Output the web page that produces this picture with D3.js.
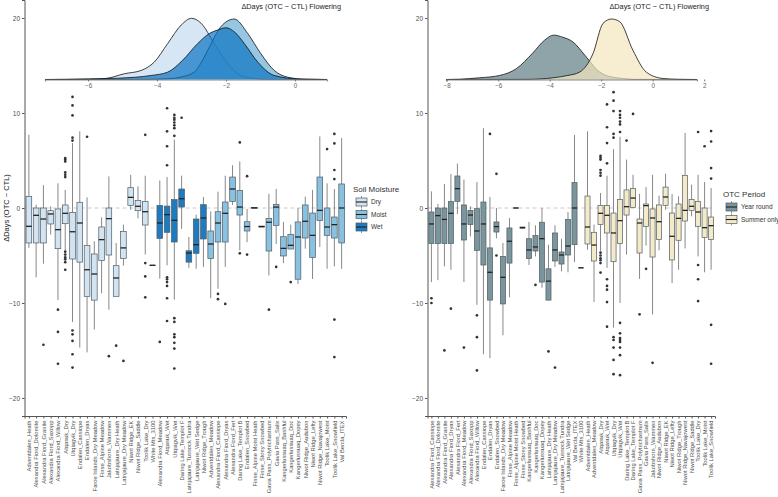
<!DOCTYPE html>
<html>
<head>
<meta charset="utf-8">
<script src="https://cdn.jsdelivr.net/npm/d3@7"></script>
<style>
  body { margin: 0; background: #fff; }
  text { font-family: "Liberation Sans", Arial, sans-serif; }
</style>
</head>
<body>
<div id="chart"></div>
<script>
// ......................
// Data

// left panel: sites grouped by soil moisture
var leftSites = ["Adventdalen_Heath", "Alexandra Fiord_Dolomite", "Alexandra Fiord_Granite", "Alexandra Fiord_Saxopp",
  "Alexandra Fiord_Willow", "Atqasuk_Dry", "Utqiagvik_Dry", "Endalen_Cassiope", "Endalen_Dryas",
  "Faroe Islands_Dry Meadow", "Finse_Alpine Meadow", "Jakobshorn_Wammen", "Latnjajaure_Dry Heath",
  "Latnjajaure_Dry Meadow", "Niwot Ridge_EK", "Niwot Ridge_Saddle", "Toolik Lake_Dry", "White Mts_3100",
  "Alexandra Fiord_Meadow", "Atqasuk_Wet", "Utqiagvik_Wet", "Daring Lake_Templot F", "Latnjajaure_Tussock Tundra",
  "Latnjajaure_Wet Sedge", "Niwot Ridge_Trough", "Adventdalen_Meadow", "Alexandra Fiord_Cassiope",
  "Alexandra Fiord_Dryas", "Alexandra Fiord_Fert", "Daring Lake_Templot B", "Endalen_Snowbed",
  "Finse_Alpine Moist Heath", "Finse_Stony Snowbed", "Gavia Pass_Polytrichastrum", "Gavia Pass_Salix",
  "Kangerlussuaq_Bashful", "Kangerlussuaq_Doc", "Kangerlussuaq_Dopey", "Niwot Ridge_Audubon",
  "Niwot Ridge_Lefty", "Niwot Ridge_Navajowest", "Toolik Lake_Moist", "Toolik Lake_Snowfield", "Val Bercla_ITEX"];

var leftGroups = ["Dry","Dry","Dry","Dry","Dry","Dry","Dry","Dry","Dry","Dry","Dry","Dry","Dry","Dry","Dry","Dry","Dry","Dry",
  "Wet","Wet","Wet","Wet","Wet","Wet","Wet",
  "Moist","Moist","Moist","Moist","Moist","Moist","Moist","Moist","Moist","Moist","Moist","Moist","Moist","Moist","Moist","Moist","Moist","Moist","Moist"];

// [lower whisker, q1, median, q3, upper whisker]
var leftBoxes = [
  [-4.2, -3.68, -1.93, 1.23, 7.7], [-7.3, -3.68, -0.77, 0, 0.35], [-5.86, -3.68, -1.16, 0, 2.4],
  [-2.8, -1.68, -0.63, -0.28, 0.18], [-9.7, -4.28, -2.28, -0.1, 2.6], [-4.46, -1.65, -0.56, 0.32, 1.9],
  [-12.0, -5.37, -2.5, -0.46, 6.84], [-14.7, -5.7, -1.58, 0.6, 8.07], [-15.2, -9.3, -6.5, -3.96, 1.12],
  [-12.8, -9.7, -6.95, -4.84, -3.5], [-9.0, -5.54, -3.33, -2.0, -0.98], [-10.7, -4.95, -1.12, 0, 3.33],
  [-9.3, -9.3, -7.37, -6.07, -3.68], [-6.07, -5.3, -4.2, -2.49, -1.75], [-0.18, 0.28, 1.12, 2.14, 3.5],
  [-1.09, -0.28, 0.18, 0.8, 2.28], [-4.9, -1.79, -0.39, 0.67, 3.4], [-6.03, -6.03, -6.03, -6.03, -6.03],
  [-7.44, -3.2, -1.58, 0.28, 2.9], [-6.03, -2.56, -0.7, 0.2, 3.26], [-9.65, -3.58, -1.3, 0.88, 7.2],
  [-2.2, 0.1, 0.98, 2.0, 3.4], [-6.3, -5.7, -4.74, -4.5, -3.05], [-6.4, -4.77, -3.86, -1.16, -0.7],
  [-6.2, -3.26, -1.05, 0.35, 1.16], [-9.5, -5.33, -3.79, -2.42, -0.35], [-8.5, -3.58, -1.58, -0.39, 1.72],
  [-6.2, -3.58, -0.56, 0.63, 3.4], [0.32, 0.7, 2.0, 3.26, 4.5], [-4.46, -0.74, 0.1, 1.86, 4.9],
  [-3.6, -2.42, -1.95, -1.45, -0.1], [0, 0, 0, 0.05, 0.05], [-1.96, -2.0, -1.96, -1.9, -1.9],
  [-7.1, -4.53, -1.5, -1.12, 1.5], [-3.8, -1.85, 0.1, 0.38, 2.0], [-5.8, -5.05, -4.25, -3.02, -1.47],
  [-4.32, -4.32, -3.93, -2.77, -1.75], [-8.0, -7.5, -3.05, -1.47, 0], [-4.28, -3.16, -1.4, 0.32, 1.19],
  [-7.47, -5.2, -2.88, -0.53, 1.9], [-4.1, -1.33, -0.25, 3.26, 7.54], [-6.4, -2.9, -2.0, 0, 2.6],
  [-6.14, -3.16, -1.75, -0.95, 2.0], [-6.4, -3.68, 0, 2.53, 7.37]
];

var leftOutliers = [
  [], [], [-14.4], [], [-10.7, -13.05, -16.4],
  [5.26, 5.1, 4.9, 3.75, 3.5, 3.26, -4.6, -4.9, -5.2, -5.4, -5.7, -6.5],
  [11.7, 10.8, 9.75, 7.4, 7.1, -12.9, -13.3, -14.0, -15.4, -16.8],
  [], [7.5], [], [], [-15.6], [-14.5], [-16.1], [], [], [7.7, -5.8, -7.2, -9.4], [],
  [-14.1], [10.5, 8.07, 6.5, 4.5, -7.3, -7.5, -7.8, -8.2, -9.5, -11.9],
  [9.8, 9.5, 9.3, 9.0, 8.7, 8.4, 7.6, -11.6, -12.0, -13.3, -13.6, -14.2, -14.8, -16.9],
  [9.5], [], [], [], [], [-9.05, -9.6], [-10.1], [], [6.9, -4.77], [3.35, -4.9], [], [],
  [-10.7], [-6.2], [], [-7.8], [], [], [], [], [6.2], [7.8, 6.8, 4.0, 3.05, -11.75, -15.7], []
];

// right panel: sites grouped by OTC period
var rightSites = ["Alexandra Fiord_Cassiope", "Alexandra Fiord_Dolomite", "Alexandra Fiord_Granite", "Alexandra Fiord_Dryas",
  "Alexandra Fiord_Fert", "Alexandra Fiord_Meadow", "Alexandra Fiord_Saxopp", "Alexandra Fiord_Willow",
  "Endalen_Cassiope", "Endalen_Dryas", "Endalen_Snowbed", "Faroe Islands_Dry Meadow", "Finse_Alpine Meadow",
  "Finse_Alpine Moist Heath", "Finse_Stony Snowbed", "Kangerlussuaq_Bashful", "Kangerlussuaq_Doc",
  "Kangerlussuaq_Dopey", "Latnjajaure_Dry Heath", "Latnjajaure_Dry Meadow", "Latnjajaure_Tussock Tundra",
  "Latnjajaure_Wet Sedge", "Val Bercla_ITEX", "White Mts_3100", "Adventdalen_Heath", "Adventdalen_Meadow",
  "Atqasuk_Dry", "Atqasuk_Wet", "Utqiagvik_Dry", "Utqiagvik_Wet", "Daring Lake_Templot B", "Daring Lake_Templot F",
  "Gavia Pass_Polytrichastrum", "Gavia Pass_Salix", "Jakobshorn_Wammen", "Niwot Ridge_Audubon", "Niwot Ridge_EK",
  "Niwot Ridge_Lefty", "Niwot Ridge_Trough", "Niwot Ridge_Navajowest", "Niwot Ridge_Saddle", "Toolik Lake_Dry",
  "Toolik Lake_Moist", "Toolik Lake_Snowfield"];

var rightGroups = ["Year round","Year round","Year round","Year round","Year round","Year round","Year round","Year round",
  "Year round","Year round","Year round","Year round","Year round","Year round","Year round","Year round",
  "Year round","Year round","Year round","Year round","Year round","Year round","Year round","Year round",
  "Summer only","Summer only","Summer only","Summer only","Summer only","Summer only","Summer only","Summer only",
  "Summer only","Summer only","Summer only","Summer only","Summer only","Summer only","Summer only","Summer only",
  "Summer only","Summer only","Summer only","Summer only"];

var rightBoxes = [
  [-7.8, -3.75, -1.68, -0.42, 1.75], [-7.6, -3.75, -0.8, 0, 0.42], [-6.14, -3.75, -1.2, 0, 2.53],
  [-6.5, -3.75, -0.56, 0.67, 3.58], [-0.63, 0.7, 2.04, 3.37, 4.67], [-7.8, -3.37, -1.68, 0.32, 3.0],
  [-3.0, -1.75, -0.74, -0.25, 0.18], [-10.2, -4.46, -2.42, -0.07, 2.74], [-15.4, -6.0, -1.68, 0.63, 8.4],
  [-15.8, -9.7, -6.77, -4.2, 1.16], [-3.2, -2.53, -1.96, -1.47, 0], [-13.4, -10.1, -7.3, -5.1, -3.68],
  [-9.4, -5.8, -3.5, -2.1, -1.05], [0, 0, 0, 0, 0], [-2.07, -2.12, -2.07, -2.0, -2.0],
  [-6.0, -5.33, -4.42, -3.23, -1.47], [-5.1, -4.53, -4.1, -2.9, -1.82], [-8.4, -7.8, -3.23, -1.5, 0],
  [-9.7, -9.7, -7.7, -6.4, -3.86], [-6.2, -5.58, -4.42, -2.63, -1.82], [-6.67, -5.9, -4.95, -4.63, -3.23],
  [-6.77, -4.95, -4.0, -1.2, -0.42], [-5.7, -3.86, 0, 2.67, 7.7], [-6.3, -6.3, -6.3, -6.3, -6.3],
  [-4.4, -3.79, -2.0, 1.26, 8.07], [-9.9, -5.58, -3.9, -2.56, -1.75], [-4.5, -1.75, -0.56, 0.28, 1.58],
  [-6.3, -2.63, -0.77, 0.25, 3.4], [-12.6, -5.65, -2.63, -0.53, 6.2], [-10.0, -3.75, -1.33, 0.88, 7.5],
  [-4.9, -0.74, 0.14, 1.9, 5.1], [0.07, 0.07, 1.05, 2.07, 3.5], [-7.47, -4.74, -1.58, -1.16, 1.5],
  [-3.96, -1.93, 0.25, 0.42, 2.2], [-11.2, -5.16, -1.05, -0.1, 3.5], [-4.46, -3.33, -1.44, 0.32, 1.3],
  [-0.18, 0.28, 1.16, 2.2, 3.6], [-7.9, -5.47, -2.98, -0.53, 1.47], [-6.5, -3.4, -1.09, 0.42, 1.23],
  [-4.25, -1.37, -0.25, 3.44, 7.9], [-0.88, -0.25, 0.18, 0.88, 2.46], [-5.1, -1.93, -0.42, 0.7, 3.5],
  [-6.77, -3.09, -2.07, 0, 2.74], [-6.5, -3.33, -1.86, -0.95, 2.1]
];

var rightOutliers = [
  [-9.5, -10.0], [], [-15.0], [-10.6], [], [-14.7], [], [-11.3, -13.6, -17.1], [], [7.8], [3.6, -5.0],
  [], [], [], [], [], [-8.1], [], [-15.1], [-16.8], [], [], [], [], [], [],
  [5.5, 5.3, 5.1, 4.0, 3.7, 3.4, -4.7, -5.0, -5.3, -5.5, -5.8, -6.8],
  [10.9, 8.5, 6.84, 4.7, -7.5, -8.2, -8.6, -9.9, -12.5],
  [12.2, 11.3, 10.2, 7.8, 7.4, -13.6, -13.9, -14.7, -16.0, -17.5],
  [10.2, 9.8, 9.5, 9.1, 8.8, 8.0, -12.1, -13.2, -13.7, -13.9, -14.1, -14.7, -15.5, -17.6],
  [7.1], [9.9], [-11.2], [-6.4], [-16.3], [], [], [], [], [], [], [8.0, -6.0, -7.5, -9.8], [6.5],
  [8.1, 7.0, 4.2, 3.1, -12.3, -16.4]
];

// density curves of the inset plots, [delta days, density]
var densDry = [[-7.25, 0], [-6, 0.003], [-5.5, 0.01], [-4.95, 0.057], [-4.46, 0.09], [-4.08, 0.173], [-3.69, 0.357],
  [-3.3, 0.54], [-3.0, 0.607], [-2.72, 0.557], [-2.34, 0.357], [-1.95, 0.157], [-1.57, 0.04], [-1.2, 0.01], [-0.8, 0.001], [0.93, 0]];
var densMoist = [[-7.25, 0], [-4.5, 0.001], [-3.69, 0.007], [-3.3, 0.025], [-2.92, 0.073], [-2.75, 0.15], [-2.53, 0.29],
  [-2.15, 0.523], [-1.76, 0.6], [-1.37, 0.457], [-0.99, 0.257], [-0.6, 0.09], [-0.21, 0.023], [0.3, 0.003], [0.93, 0]];
var densWet = [[-7.25, 0], [-6.6, 0.001], [-6, 0.005], [-5.14, 0.013], [-4.17, 0.04], [-3.69, 0.073], [-3.26, 0.19],
  [-2.82, 0.357], [-2.48, 0.457], [-2.25, 0.49], [-2.0, 0.513], [-1.75, 0.47], [-1.47, 0.357], [-1.08, 0.173],
  [-0.6, 0.04], [0.17, 0.003], [0.93, 0]];
var densYear = [[-8.03, 0], [-7.5, 0.003], [-6.73, 0.017], [-5.95, 0.04], [-5.3, 0.107], [-4.67, 0.26], [-4.2, 0.39],
  [-3.85, 0.44], [-3.5, 0.42], [-3.1, 0.373], [-2.58, 0.223], [-2.06, 0.073], [-1.41, 0.017], [-0.5, 0.001], [1.72, 0]];
var densSummer = [[-8.03, 0], [-4.9, 0.001], [-3.87, 0.017], [-3.3, 0.04], [-2.84, 0.073], [-2.32, 0.257], [-1.93, 0.557],
  [-1.6, 0.6], [-1.28, 0.573], [-0.77, 0.29], [-0.25, 0.073], [0.4, 0.01], [1.0, 0.002], [1.72, 0]];

var yTicks = [-20, -10, 0, 10, 20];
var densTicksLeft = [-6, -4, -2, 0];
var densTicksRight = [-8, -6, -4, -2, 0, 2];

// ......................
// Setting up SVG area
var svgWidth = 778;
var svgHeight = 497;

var svg = d3.select("#chart")
    .append("svg")
    .attr("width", svgWidth)
    .attr("height", svgHeight);

var panelTop = 0;
var panelBottom = 416;

// shared y scale for both boxplot panels
var yScale = d3.scaleLinear()
    .domain([-21.9, 21.9])
    .range([panelBottom, panelTop]);

var densY = d3.scaleLinear()
    .domain([0, 0.607])
    .range([79.5, 18.3]);

var fills = {
    "Dry": "#d2e3f1", "Moist": "#89c1e0", "Wet": "#1f7bc0",
    "Year round": "#7a969c", "Summer only": "#f5eac8"
};
var densFills = {
    "Dry": "#c6dbef", "Moist": "#6baed6", "Wet": "#0a73c2",
    "Year round": "#5f7d84", "Summer only": "#f3e6bd"
};

function drawPanel(cfg) {
    var g = svg.append("g");

    let xScale = d3.scalePoint()
        .domain(cfg.sites)
        .range([cfg.x0, cfg.x1])
        .padding(0.6);
    let bw = xScale.step() * 0.78;

    // reference line at zero
    g.append("line")
        .attr("x1", cfg.x0).attr("x2", cfg.x1)
        .attr("y1", yScale(0)).attr("y2", yScale(0))
        .attr("stroke", "#bdbdbd")
        .attr("stroke-width", 0.8)
        .attr("stroke-dasharray", "4,3");

    // boxes
    let boxes = g.selectAll("g.box")
        .data(cfg.boxes)
        .enter()
        .append("g")
        .attr("class", "box")
        .attr("transform", (d, i) => `translate(${xScale(cfg.sites[i])},0)`);

    boxes.append("line")
        .attr("y1", d => yScale(d[0])).attr("y2", d => yScale(d[1]))
        .attr("stroke", "#7a7a7a").attr("stroke-width", 0.9);
    boxes.append("line")
        .attr("y1", d => yScale(d[3])).attr("y2", d => yScale(d[4]))
        .attr("stroke", "#7a7a7a").attr("stroke-width", 0.9);
    boxes.append("rect")
        .attr("x", -bw / 2)
        .attr("width", bw)
        .attr("y", d => yScale(d[3]))
        .attr("height", d => Math.max(0.01, yScale(d[1]) - yScale(d[3])))
        .attr("fill", (d, i) => fills[cfg.groups[i]])
        .attr("stroke", "#4f5b63")
        .attr("stroke-width", 0.7);
    boxes.append("line")
        .attr("x1", -bw / 2).attr("x2", bw / 2)
        .attr("y1", d => yScale(d[2])).attr("y2", d => yScale(d[2]))
        .attr("stroke", "#222")
        .attr("stroke-width", 1.3);

    // outliers
    boxes.each(function(d, i) {
        d3.select(this).selectAll("circle")
            .data(cfg.outliers[i])
            .enter()
            .append("circle")
            .attr("cx", 0)
            .attr("cy", v => yScale(v))
            .attr("r", 1.35)
            .attr("fill", "#333");
    });

    // axes
    let yAxis = d3.axisLeft(yScale).tickValues(yTicks).tickSize(2.5).tickPadding(2);
    let yG = g.append("g")
        .attr("transform", `translate(${cfg.x0},0)`)
        .call(yAxis);
    yG.select(".domain").attr("stroke", "#555").attr("stroke-width", 1);
    yG.selectAll(".tick line").attr("stroke", "#555");
    yG.selectAll("text").attr("font-size", 6.5).attr("fill", "#4d4d4d")
        .text(d => d < 0 ? "\u2212" + Math.abs(d) : d);

    let xAxis = d3.axisBottom(xScale).tickSize(2.5).tickPadding(2);
    let xG = g.append("g")
        .attr("transform", `translate(0,${panelBottom})`)
        .call(xAxis);
    xG.select(".domain").attr("stroke", "#555").attr("stroke-width", 1);
    xG.selectAll(".tick line").attr("stroke", "#555");
    xG.selectAll("text")
        .attr("font-size", 5.8)
        .attr("fill", "#4d4d4d")
        .attr("text-anchor", "end")
        .attr("transform", "rotate(-90)")
        .attr("x", -4.5)
        .attr("y", 0)
        .attr("dy", "0.32em");

    // density inset
    let dx = d3.scaleLinear().domain(cfg.densDomain).range(cfg.densRange);
    let area = d3.area()
        .x(p => dx(p[0])).y0(densY(0)).y1(p => densY(p[1]))
        .curve(d3.curveMonotoneX);
    let line = d3.line()
        .x(p => dx(p[0])).y(p => densY(p[1]))
        .curve(d3.curveMonotoneX);
    cfg.dens.forEach(function(s) {
        g.append("path")
            .attr("d", area(s.values))
            .attr("fill", densFills[s.key])
            .attr("fill-opacity", 0.7);
        g.append("path")
            .attr("d", line(s.values))
            .attr("fill", "none")
            .attr("stroke", "#111")
            .attr("stroke-width", 0.8);
    });
    let dAxis = d3.axisBottom(dx).tickValues(cfg.densTicks).tickSize(2).tickPadding(2);
    let dG = g.append("g")
        .attr("transform", `translate(0,${densY(0)})`)
        .call(dAxis);
    dG.select(".domain").attr("stroke", "#8a8a8a").attr("stroke-width", 1.2);
    dG.selectAll(".tick line").attr("stroke", "#777");
    dG.selectAll("text").attr("font-size", 6.3).attr("fill", "#666")
        .text(d => d < 0 ? "\u2212" + Math.abs(d) : d);

    g.append("text")
        .attr("x", cfg.titleX)
        .attr("y", 9)
        .attr("text-anchor", "end")
        .attr("font-size", 7.3)
        .attr("fill", "#222")
        .text("\u0394Days (OTC \u2212 CTL) Flowering");

    // legend
    let lg = g.append("g")
        .attr("transform", `translate(${cfg.legendX},${cfg.legendY})`);
    lg.append("text")
        .attr("x", 0).attr("y", 0)
        .attr("dy", "0.35em")
        .attr("font-size", 8)
        .attr("fill", "#333")
        .text(cfg.legendTitle);
    cfg.legendKeys.forEach(function(k, i) {
        let ky = 13 + i * 12.5;
        lg.append("line")
            .attr("x1", 8.5).attr("x2", 8.5)
            .attr("y1", ky - 6).attr("y2", ky + 6)
            .attr("stroke", "#7a7a7a").attr("stroke-width", 0.8);
        lg.append("rect")
            .attr("x", 3).attr("y", ky - 4)
            .attr("width", 11).attr("height", 8)
            .attr("fill", fills[k])
            .attr("stroke", "#4f5b63").attr("stroke-width", 0.7);
        lg.append("line")
            .attr("x1", 3).attr("x2", 14)
            .attr("y1", ky).attr("y2", ky)
            .attr("stroke", "#222").attr("stroke-width", 1.1);
        lg.append("text")
            .attr("x", 18).attr("y", ky)
            .attr("dy", "0.35em")
            .attr("font-size", 6.5)
            .attr("fill", "#333")
            .text(k);
    });
}

drawPanel({
    sites: leftSites, groups: leftGroups, boxes: leftBoxes, outliers: leftOutliers,
    x0: 24.5, x1: 346,
    dens: [{key: "Dry", values: densDry}, {key: "Moist", values: densMoist}, {key: "Wet", values: densWet}],
    densDomain: [-7.25, 0.93], densRange: [45, 327], densTicks: densTicksLeft, titleX: 341,
    legendTitle: "Soil Moisture", legendKeys: ["Dry", "Moist", "Wet"], legendX: 353, legendY: 189
});

drawPanel({
    sites: rightSites, groups: rightGroups, boxes: rightBoxes, outliers: rightOutliers,
    x0: 427.5, x1: 715,
    dens: [{key: "Year round", values: densYear}, {key: "Summer only", values: densSummer}],
    densDomain: [-8.03, 1.72], densRange: [446, 697], densTicks: densTicksRight, titleX: 709,
    legendTitle: "OTC Period", legendKeys: ["Year round", "Summer only"], legendX: 723, legendY: 194
});

// y axis title (left panel only)
svg.append("text")
    .attr("transform", `translate(9,${yScale(0)}) rotate(-90)`)
    .attr("text-anchor", "middle")
    .attr("font-size", 7.5)
    .attr("fill", "#222")
    .text("\u0394Days (OTC \u2212 CTL)");
</script>
</body>
</html>
